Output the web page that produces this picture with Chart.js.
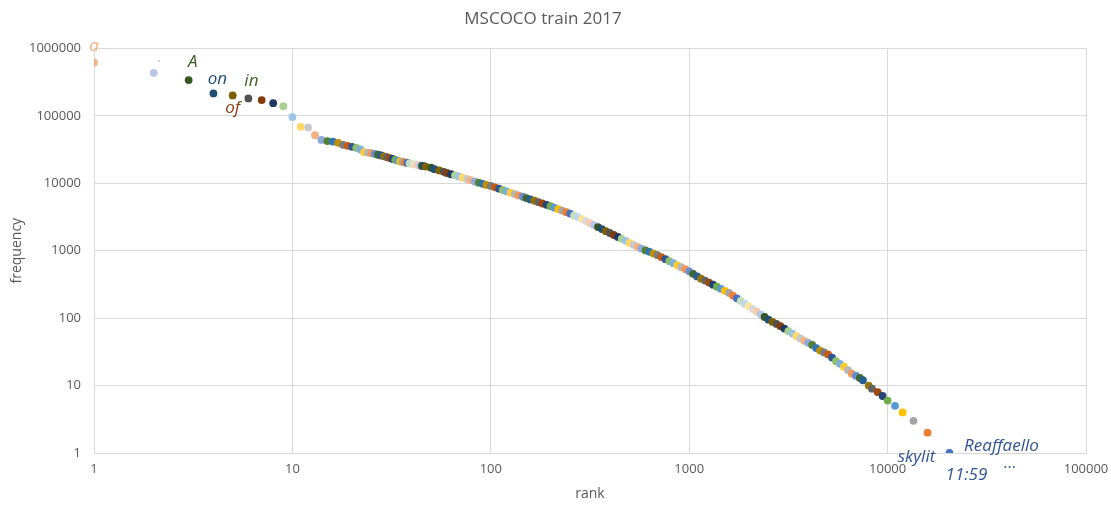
<!DOCTYPE html>
<html>
<head>
<meta charset="utf-8">
<script src="https://cdn.jsdelivr.net/npm/chart.js@4/dist/chart.umd.min.js"></script>
<style>
  html, body { margin: 0; padding: 0; background: #ffffff; }
  canvas { display: block; }
</style>
</head>
<body>
<canvas id="zipf" width="1111" height="505"></canvas>
<script>
// Word rank vs. frequency, MSCOCO train 2017 captions
const ranks = [
  1, 2, 3, 4, 5, 6, 7, 8, 9, 10, 11, 12, 13,
  14, 15, 16, 17, 18, 19, 20, 21, 22, 23, 24,
  25, 26, 27, 28, 29, 30, 31, 32, 33, 34, 35, 36, 37, 38, 39, 40, 41, 42, 43, 44, 45, 46, 47,
  50, 52, 55, 58, 60, 63, 66, 69, 72, 76, 79, 83, 87, 91, 95,
  100, 105, 110, 115, 120, 126, 132, 138, 145, 151, 158, 166, 174, 182, 191,
  200, 209, 219, 229, 240, 251, 263, 275, 288, 302, 316, 331, 347, 363, 380, 398, 417, 437, 457, 479,
  501, 525, 550, 575, 603, 631, 661, 692, 724, 759, 794, 832, 871, 912, 955,
  1000, 1047, 1096, 1148, 1202, 1259, 1318, 1380, 1445, 1514, 1585, 1660, 1738, 1820, 1905, 1995,
  2089, 2188, 2291, 2399, 2512, 2630, 2754, 2884, 3020, 3162, 3311, 3467, 3631, 3802, 3981,
  4169, 4365, 4571, 4786, 5012, 5248, 5495, 5754, 6026, 6310, 6607, 6918, 7244,
  7510, 8030, 8340, 8910, 9440, 10000, 10900, 11900, 13500, 15900, 20500
];
const frequencies = [
  620000, 434000, 339000, 215000, 201000, 181000, 171000, 154000, 139000, 95700, 68700, 67300, 51700,
  44000, 42200, 41500, 39800, 37200, 35900, 34700, 33500, 31700, 28900, 28500,
  27900, 27200, 26500, 25800, 25100, 24300, 23600, 22900, 22300, 21700, 21100, 20700, 20400, 20000, 19700, 19400, 19100, 18900, 18600, 18400, 18100, 17900, 17700,
  17000, 16200, 15500, 14800, 14200, 13600, 13100, 12600, 12100, 11600, 11100, 10600, 10200, 9820, 9460,
  9120, 8710, 8320, 7940, 7590, 7240, 6920, 6610, 6310, 6030, 5750, 5500, 5250, 5010, 4790,
  4570, 4350, 4130, 3930, 3730, 3550, 3340, 3150, 2950, 2750, 2570, 2400, 2240, 2090, 1950, 1830, 1710, 1600, 1500, 1400,
  1300, 1220, 1140, 1070, 1010, 962, 908, 857, 804, 750, 700, 653, 610, 569, 531,
  495, 454, 416, 385, 360, 337, 313, 292, 272, 254, 237, 216, 197, 180, 164, 150,
  137, 125, 114, 104, 95, 88, 82, 76, 70, 64, 59, 54, 50, 46, 43,
  40, 36, 33, 31, 29, 26, 23, 21, 19, 17, 15, 14, 13,
  12, 10, 9, 8, 7, 6, 5, 4, 3, 2, 1
];

// Words printed next to the first six ranks, and beside the last point
const topWords = ['a', '.', 'A', 'on', 'of', 'in'];
const lastRankWords = ['skylit', 'Reaffaello', '11:59', '...'];

// Axis tick values and their labels
const xTickValues = [1, 10, 100, 1000, 10000, 100000];
const xTickLabels = ['1', '10', '100', '1000', '10000', '100000'];
const yTickValues = [1, 10, 100, 1000, 10000, 100000, 1000000];
const yTickLabels = ['1', '10', '100', '1000', '10000', '100000', '1000000'];

// Office-style series colour cycle
const seriesPalette = [
  '#4472C4', '#ED7D31', '#A5A5A5', '#FFC000', '#5B9BD5', '#70AD47',
  '#264478', '#9E480E', '#636363', '#997300', '#255E91', '#43682B',
  '#698ED0', '#F1975A', '#B7B7B7', '#FFCD33', '#7CAFDD', '#8CC168',
  '#2F5597', '#C55A11', '#7B7B7B', '#BF9000', '#2E75B6', '#548235',
  '#8FAADC', '#F4B183', '#C9C9C9', '#FFD966', '#9DC3E6', '#A9D18E',
  '#203864', '#843C0C', '#525252', '#7F6000', '#1F4E79', '#375623',
  '#B4C7E7', '#F8CBAD', '#DBDBDB', '#FFE699', '#BDD7EE', '#C5E0B4'
];

const points = ranks.map((r, i) => ({ x: r, y: frequencies[i] }));
const nPts = points.length;
const P = seriesPalette.length;
const pointColors = points.map((_, i) => {
  if (i < 47) return seriesPalette[((37 - i) % P + P) % P];
  return seriesPalette[(nPts - 1 - i) % P];
});
pointColors[0] = '#F4B183';

const GREY = '#595959';
const GRID = '#D9D9D9';

// Placement and colour of the word labels (offsets from the point centre)
const topWordStyle = [
  { dx: 0,  dy: -16, color: '#F4B183' },
  { dx: 6,  dy: -16, color: '#B4C7E7' },
  { dx: 4,  dy: -18, color: '#375623' },
  { dx: 4,  dy: -14, color: '#1F4E79' },
  { dx: 0,  dy: 13,  color: '#843C0C' },
  { dx: 3,  dy: -17, color: '#3B6322' }
];
const lastWordStyle = [
  { dx: -33, dy: 4 },
  { dx: 52,  dy: -7 },
  { dx: 17,  dy: 22 },
  { dx: 61,  dy: 10 }
];

const wordLabels = {
  id: 'wordLabels',
  afterDatasetsDraw(chart) {
    const meta = chart.getDatasetMeta(0);
    const ctx = chart.ctx;
    ctx.save();
    ctx.font = 'italic 17px "Open Sans", sans-serif';
    ctx.textAlign = 'center';
    ctx.textBaseline = 'middle';
    topWords.forEach((w, i) => {
      const el = meta.data[i];
      const s = topWordStyle[i];
      ctx.fillStyle = s.color;
      ctx.fillText(w, el.x + s.dx, el.y + s.dy);
    });
    const last = meta.data[meta.data.length - 1];
    ctx.fillStyle = '#2F5597';
    lastRankWords.forEach((w, i) => {
      const s = lastWordStyle[i];
      ctx.fillText(w, last.x + s.dx, last.y + s.dy);
    });
    ctx.restore();
  }
};

new Chart(document.getElementById('zipf'), {
  type: 'scatter',
  data: {
    datasets: [{
      label: 'words',
      data: points,
      pointRadius: 3.9,
      pointHoverRadius: 3.9,
      pointBorderWidth: 0,
      pointBackgroundColor: pointColors,
      pointBorderColor: pointColors
    }]
  },
  options: {
    responsive: false,
    animation: false,
    devicePixelRatio: 1,
    layout: { padding: { left: 0, right: 25, top: 0, bottom: 0 } },
    plugins: {
      legend: { display: false },
      tooltip: { enabled: false },
      title: {
        display: true,
        text: 'MSCOCO train 2017',
        color: GREY,
        font: { family: '"Open Sans", sans-serif', size: 17, weight: 'normal' },
        padding: { top: 9, bottom: 19 }
      }
    },
    scales: {
      x: {
        type: 'logarithmic',
        min: 1,
        max: 100000,
        afterBuildTicks: (scale) => { scale.ticks = xTickValues.map(v => ({ value: v })); },
        afterFit: (scale) => {
          scale.height = 52;
          scale.paddingLeft = 0;
          scale.paddingRight = 0;
        },
        ticks: {
          color: GREY,
          font: { family: '"Open Sans", sans-serif', size: 13 },
          padding: 8,
          maxRotation: 0,
          autoSkip: false,
          callback: (v) => xTickLabels[xTickValues.indexOf(v)] ?? ''
        },
        grid: { color: GRID, lineWidth: 1, drawTicks: false },
        border: { color: GRID },
        title: {
          display: true,
          text: 'rank',
          color: GREY,
          font: { family: '"Open Sans", sans-serif', size: 14 },
          padding: { top: 0, bottom: 3 }
        }
      },
      y: {
        type: 'logarithmic',
        min: 1,
        max: 1000000,
        afterBuildTicks: (scale) => { scale.ticks = yTickValues.map(v => ({ value: v })); },
        afterFit: (scale) => {
          scale.width = 94;
          scale.paddingTop = 0;
          scale.paddingBottom = 0;
        },
        ticks: {
          color: GREY,
          font: { family: '"Open Sans", sans-serif', size: 13 },
          padding: 13,
          autoSkip: false,
          callback: (v) => yTickLabels[yTickValues.indexOf(v)] ?? ''
        },
        grid: { color: GRID, lineWidth: 1, drawTicks: false },
        border: { color: GRID },
        title: {
          display: true,
          text: 'frequency',
          color: GREY,
          font: { family: '"Open Sans", sans-serif', size: 14 },
          padding: { top: 9, bottom: 0 }
        }
      }
    }
  },
  plugins: [wordLabels]
});
</script>
</body>
</html>
